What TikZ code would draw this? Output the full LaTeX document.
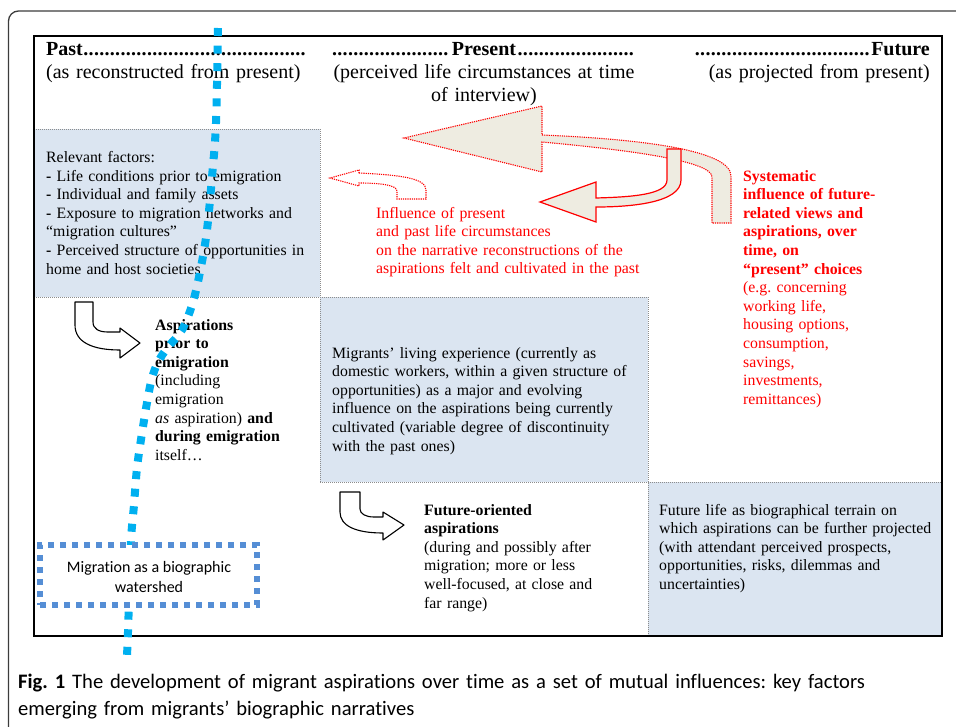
\documentclass[tikz,border=0pt]{standalone}
\usepackage{fontspec}
\setmainfont{Liberation Serif}
\newfontfamily\capfont[Ligatures=NoCommon]{Carlito}
\definecolor{boxblue}{RGB}{219,229,241}
\definecolor{beigefill}{RGB}{238,236,225}
\definecolor{lineblue}{RGB}{0,176,240}
\definecolor{boxedge}{RGB}{85,142,213}
\definecolor{framegray}{RGB}{60,60,60}
\definecolor{sepgray}{RGB}{140,140,140}
\newcommand\mydots{\leaders\hbox to 5.3pt{\hss\textbf{.}\hss}\hfill}
\frenchspacing
\begin{document}
\begin{tikzpicture}[x=1pt,y=-1pt,
  txt/.style={anchor=base west, inner sep=0pt, text width=#1, align=left,
    font=\fontsize{15.8}{18.6}\selectfont},
  txt/.default=320pt,
  hdr/.style={inner sep=0pt, text width=320pt, font=\fontsize{20}{23}\selectfont},
  sep/.style={draw=sepgray, line width=1pt, dash pattern=on 1pt off 1pt},
  redout/.style={draw=red, line width=1.1pt, dash pattern=on 1.2pt off 1pt},
  hook/.style={draw=black, fill=white, line width=1.1pt, line join=round},
  bluedots/.style={draw=lineblue, line width=8pt, dash pattern=on 8pt off 9.6pt},
  migbox/.style={draw=boxedge, fill=white, line width=6pt, dash pattern=on 6pt off 6pt,
    rectangle, minimum width=217pt, minimum height=60pt, inner sep=0pt},
]
\useasboundingbox (0,0) rectangle (956,726);
\begin{scope}
\clip (0,0) rectangle (956,726);
% outer frame
\draw[framegray, line width=1.3pt, rounded corners=10pt] (8.5,11) rectangle (990,760);
% blue boxes
\fill[boxblue] (34,129) rectangle (320,297);
\fill[boxblue] (320,297) rectangle (648,482);
\fill[boxblue] (648,482) rectangle (942,636);
% separators
\draw[sep] (34,129) -- (320,129);
\draw[sep] (34,297) -- (648,297);
\draw[sep] (320,482) -- (942,482);
\draw[sep] (320,129) -- (320,482);
\draw[sep] (648,297) -- (648,636);
% inner frame
\draw[black, line width=1.5pt] (34,36) rectangle (942,636);

% big beige arrow (dotted red outline)
\draw[redout, fill=beigefill, line join=miter]
  (542,135) .. controls (640,139) and (731,150) .. (731,176) -- (731,223)
  -- (712,223) -- (712,177) .. controls (712,162) and (640,151) .. (542,142)
  -- (542,172) -- (404,138) -- (542,106) -- cycle;
% solid red curved arrow
\draw[draw=red, line width=1.2pt, fill=beigefill, line join=miter]
  (667,149) -- (681,149) -- (681,180) .. controls (681,203) and (630,207) .. (596,207)
  -- (596,222) -- (540,202) -- (596,182) -- (596,198)
  .. controls (630,197) and (667,195) .. (667,180) -- cycle;
% small dotted arrow
\draw[redout, fill=white, line join=miter]
  (359,173) .. controls (400,175) and (426,178) .. (426,190) -- (426,199)
  -- (397,199) -- (397,191) .. controls (397,185) and (380,183) .. (359,183)
  -- (359,186) -- (330,178) -- (359,170) -- cycle;

% hook arrows
\draw[hook] (75,302) -- (93,302) -- (93,322) .. controls (93,329) and (99,332) .. (108,332)
  -- (120,332) -- (120,328) -- (140,343) -- (120,358) -- (120,350)
  .. controls (92,350) and (75,342) .. (75,325) -- cycle;
\draw[hook] (340,492) -- (360,492) -- (360,509) .. controls (360,514) and (366,517) .. (374,517)
  -- (383,517) -- (383,512) -- (404,525) -- (383,540) -- (383,533)
  .. controls (356,533) and (340,526) .. (340,512) -- cycle;

% header texts
\node[hdr, anchor=base west, align=left] (past) at (46,55)
  {\leavevmode\hbox to 260pt{\textbf{Past}\mydots}\\(as reconstructed from present)};
\node[hdr, anchor=base, align=center] (present) at (484,55)
  {\leavevmode\hbox to 304pt{\mydots\textbf{Present}\mydots}\\(perceived life circumstances at time\\of interview)};
\node[hdr, anchor=base east, align=right] (future) at (930,55)
  {\leavevmode\hbox to 235pt{\mydots\textbf{Future}}\\(as projected from present)};

% body texts
\node[txt] (factors) at (46,162.5)
  {Relevant factors:\\
   \textbf{-} Life conditions prior to emigration\\
   \textbf{-} Individual and family assets\\
   \textbf{-} Exposure to migration networks and\\
   “migration cultures”\\
   \textbf{-} Perceived structure of opportunities in\\
   home and host societies};
\node[txt, text=red] (influence) at (376,218)
  {Influence of present\\
   and past life circumstances\\
   on the narrative reconstructions of the\\
   aspirations felt and cultivated in the past};
\node[txt=200pt, text=red] (systematic) at (743,181)
  {\textbf{Systematic}\\
   \textbf{influence of future-}\\
   \textbf{related views and}\\
   \textbf{aspirations, over}\\
   \textbf{time, on}\\
   \textbf{“present” choices}\\
   (e.g. concerning\\
   working life,\\
   housing options,\\
   consumption,\\
   savings,\\
   investments,\\
   remittances)};
\node[txt=200pt] (aspir) at (155,330)
  {\textbf{Aspirations}\\
   \textbf{prior to}\\
   \textbf{emigration}\\
   (including\\
   emigration\\
   \textit{as} aspiration) \textbf{and}\\
   \textbf{during emigration}\\
   itself…};
\node[txt] (living) at (332,358)
  {Migrants’ living experience (currently as\\
   domestic workers, within a given structure of\\
   opportunities) as a major and evolving\\
   influence on the aspirations being currently\\
   cultivated (variable degree of discontinuity\\
   with the past ones)};
\node[txt=220pt] (futasp) at (424,515)
  {\textbf{Future-oriented}\\
   \textbf{aspirations}\\
   (during and possibly after\\
   migration; more or less\\
   well-focused, at close and\\
   far range)};
\node[txt=290pt] (futlife) at (659,515)
  {Future life as biographical terrain on\\
   which aspirations can be further projected\\
   (with attendant perceived prospects,\\
   opportunities, risks, dilemmas and\\
   uncertainties)};

% blue dotted watershed line
\draw[bluedots] plot[smooth, tension=0.55] coordinates {
  (218,28) (216,123) (212,177) (207,230) (201,267) (193,302) (182,330)
  (168,347) (158,362) (152,378) (148,397) (142,433) (137,468) (134,505)
  (131,540) (129,600) (128,632) (127,656)};
\node[migbox] (migbox) at (148.5,575) {};
\node[inner sep=0pt, align=center, font=\capfont\fontsize{16}{20}\selectfont] (miglabel)
  at (149,577) {Migration as a biographic\\watershed};

% caption
\node[anchor=base west, inner sep=0pt, text width=940pt, align=left,
  font=\capfont\fontsize{20.6}{27}\selectfont] (caption) at (18,688)
  {\textbf{Fig. 1} The development of migrant aspirations over time as a set of mutual influences: key factors\\
   emerging from migrants’ biographic narratives};
\end{scope}
\end{tikzpicture}
\end{document}
